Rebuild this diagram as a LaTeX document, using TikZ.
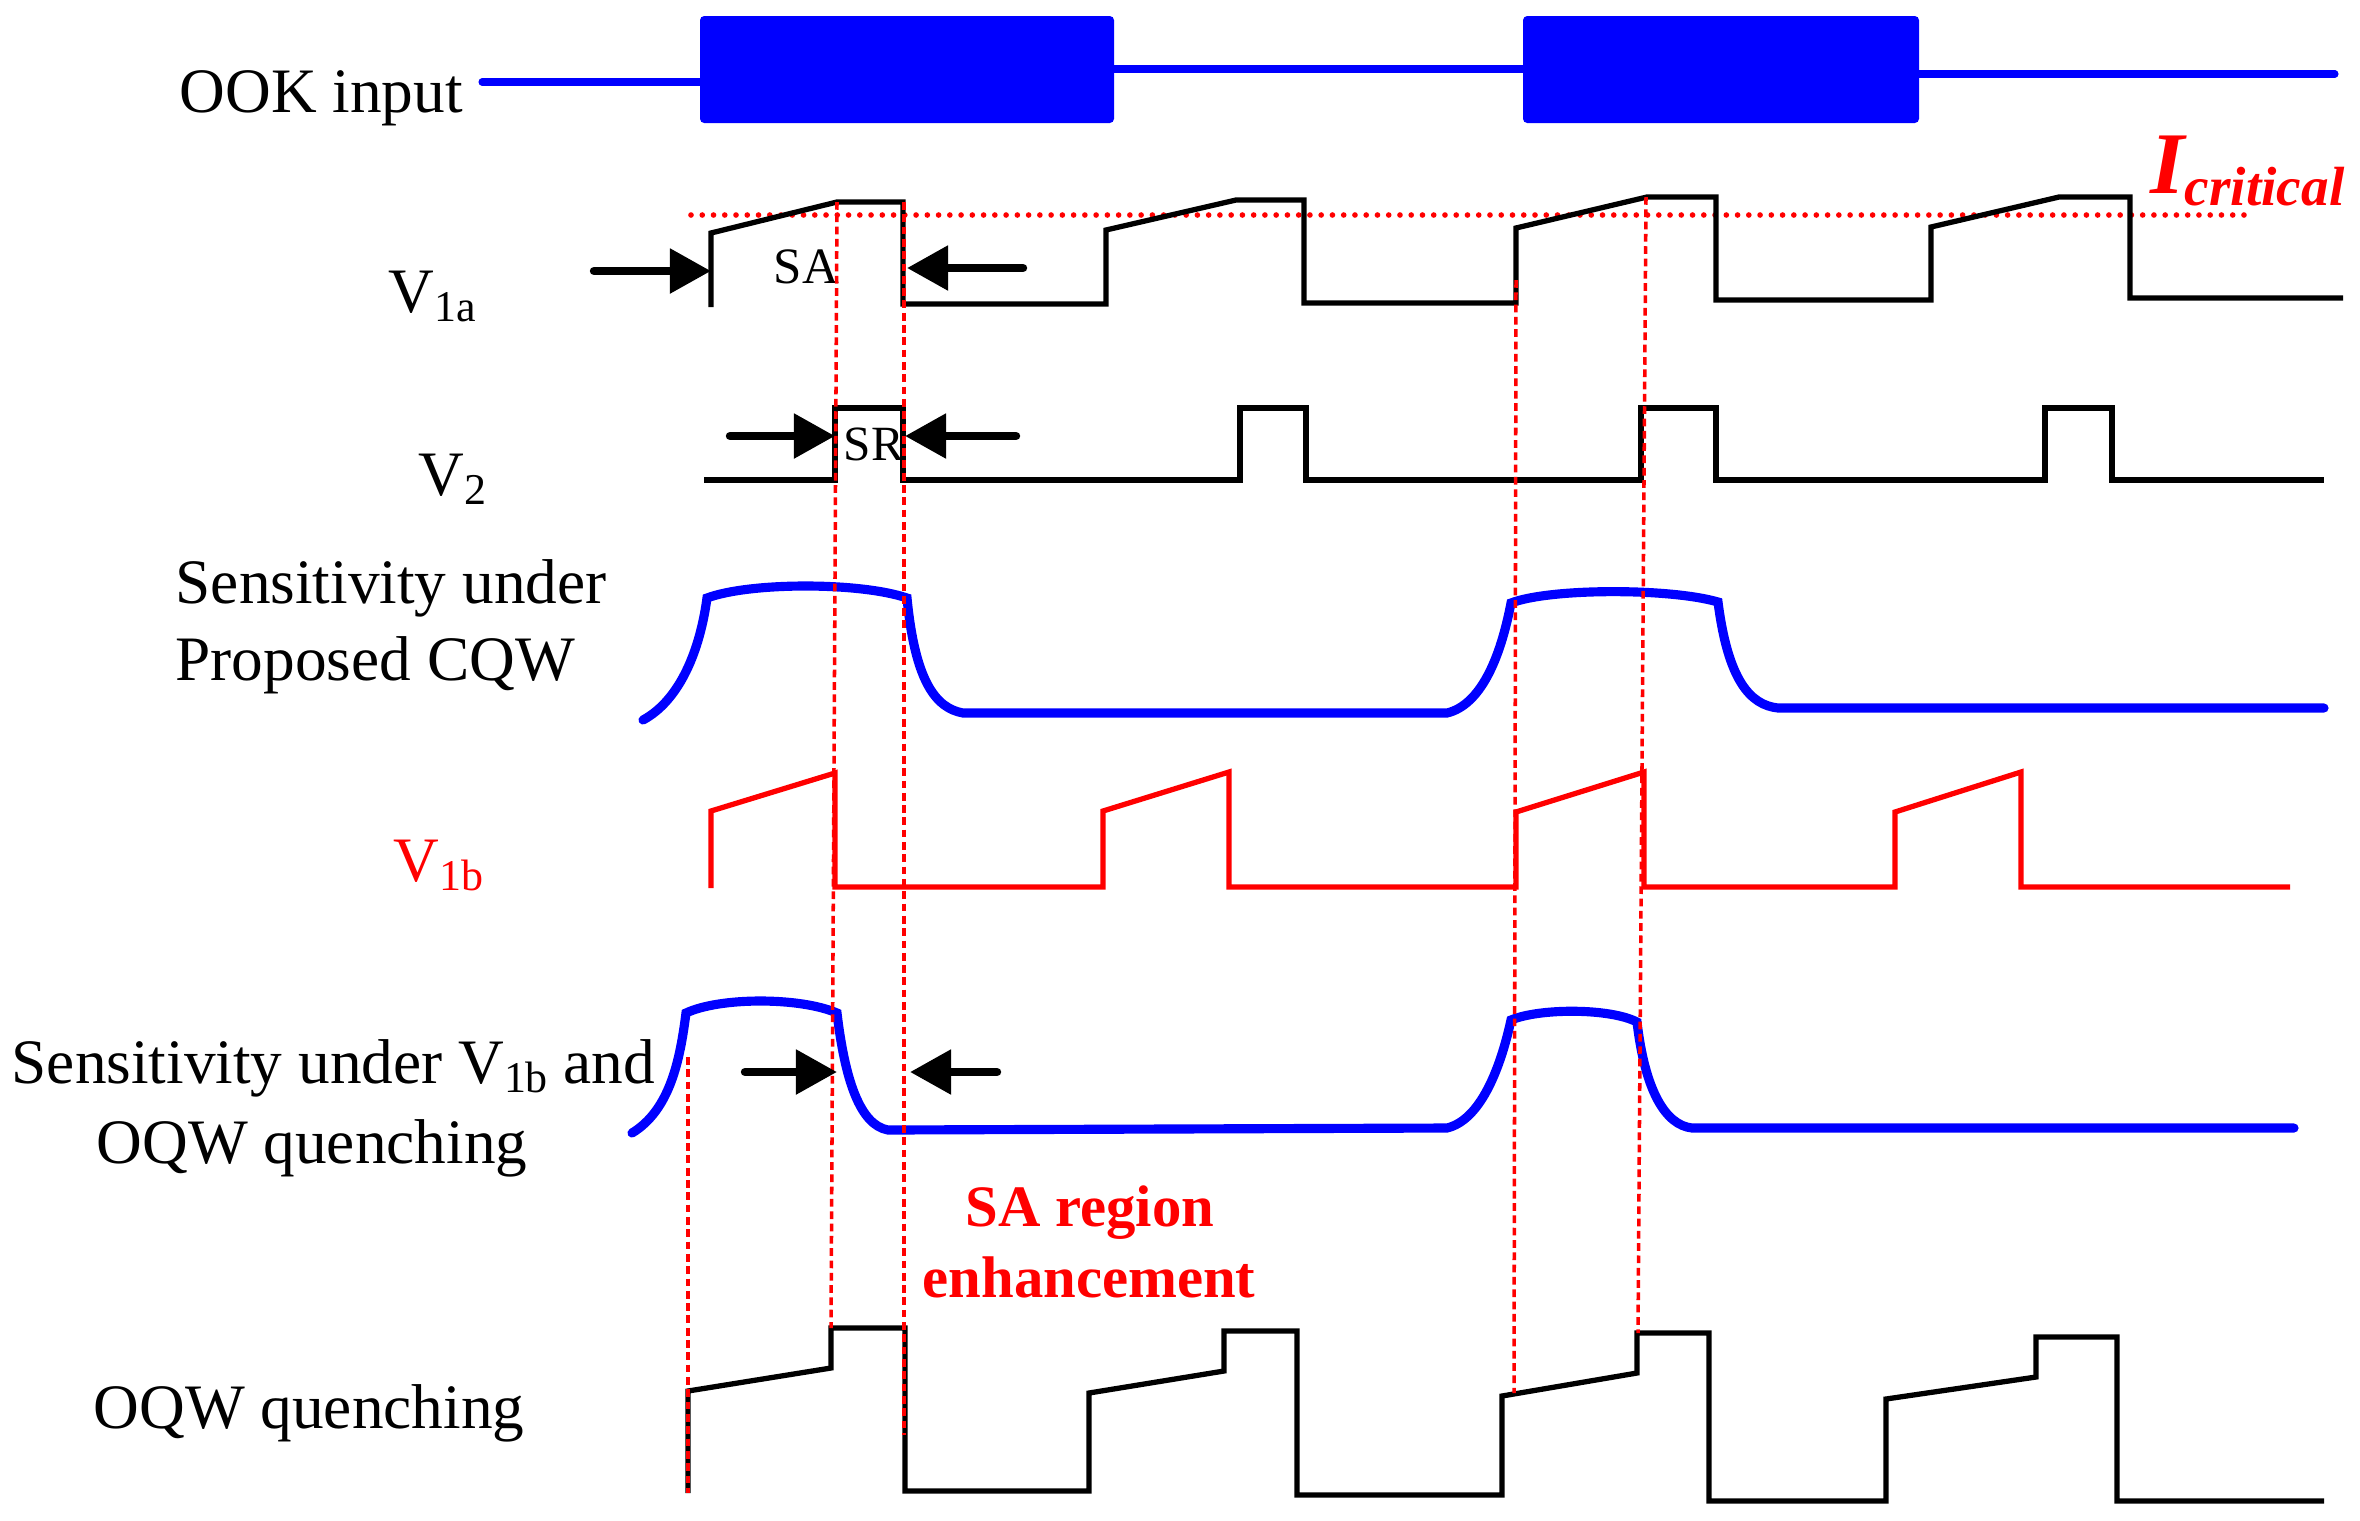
\documentclass[tikz,border=0pt]{standalone}
\usepackage{fontspec}
\setmainfont{Liberation Serif}
\usetikzlibrary{arrows.meta}
\definecolor{pblue}{RGB}{0,0,255}
\definecolor{pred}{RGB}{255,0,0}
\newcommand\SubTxt[1]{\raisebox{-2.6pt}{\fontsize{12.5}{13}\selectfont #1}}
\begin{document}
\begin{tikzpicture}[x=0.01cm,y=-0.01cm,
  wave/.style={line width=1.5pt, line join=miter},
  redwave/.style={wave, pred},
  sens/.style={pblue, line width=2.6pt, line cap=round},
  ook/.style={pblue, line width=2pt},
  pulse/.style={fill=pblue, rounded corners=1.2pt},
  guide/.style={pred, line width=1pt, dash pattern=on 2.2pt off 1.3pt},
  crit/.style={pred, line width=1.6pt, dash pattern=on 0pt off 3.2pt, line cap=round},
  bigarrow/.style={line width=2.4pt, line cap=round, -{Triangle[length=0.41cm,width=0.43cm]}},
  lab/.style={anchor=base west, inner sep=0pt, font=\fontsize{18}{22}\selectfont},
  small/.style={anchor=base west, inner sep=0pt, font=\fontsize{14.5}{16}\selectfont},
  note/.style={anchor=base west, inner sep=0pt, text=pred, font=\bfseries\fontsize{16.7}{20}\selectfont}
]
\useasboundingbox (0,0) rectangle (2360,1520);

% ---------- OOK input ----------
\node[lab] (ook) at (179,112) {OOK input};
\fill[pulse] (700,16) rectangle (1114,123);
\fill[pulse] (1523,16) rectangle (1919,123);
\coordinate (o1) at (482,82);
\coordinate (o2) at (700,82);
\coordinate (o3) at (1114,69);
\coordinate (o4) at (1523,69);
\coordinate (o5) at (1919,74);
\coordinate (o6) at (2335,74);
\draw[ook, line cap=round] (o1) -- (o2);
\draw[ook] (o3) -- (o4);
\draw[ook, line cap=round] (o5) -- (o6);

% ---------- labels ----------
\node[lab] (v1a) at (388,312) {V\SubTxt{1a}};
\node[lab] (v2) at (418,495) {V\SubTxt{2}};
\node[lab] (s1a) at (175,603) {Sensitivity under};
\node[lab] (s1b) at (175,680) {Proposed CQW};
\node[lab, text=pred] (v1b) at (393,881) {V\SubTxt{1b}};
\node[lab] (s2a) at (11,1083) {Sensitivity under V\SubTxt{1b} and};
\node[lab] (s2b) at (96,1163) {OQW quenching};
\node[lab] (oqw) at (93,1428) {OQW quenching};
\node[small] (sa) at (773,283) {SA};
\node[small, font=\fontsize{14}{16}\selectfont] (sr) at (843,460) {SR};
\node[anchor=base west, inner sep=0pt, text=pred, font=\bfseries\itshape\fontsize{25}{27}\selectfont] (ic) at (2150,193) {I\raisebox{-3.5pt}{\fontsize{15.7}{17}\selectfont critical}};
\node[note] (sar1) at (965,1226) {SA region};
\node[note] (sar2) at (922,1297) {enhancement};

% ---------- I critical level ----------
\draw[crit] (691,215) -- (2245,215);

% ---------- V1a ----------
\draw[wave] (711,307) -- (711,233) -- (837,202) -- (903,202) -- (903,304) -- (1106,304)
  -- (1106,230) -- (1236,200) -- (1304,200) -- (1304,303) -- (1516,303)
  -- (1516,228) -- (1647,197) -- (1716,197) -- (1716,300) -- (1931,300)
  -- (1931,227) -- (2059,197) -- (2130,197) -- (2130,298) -- (2343,298);

% ---------- V2 ----------
\draw[wave] (704,480) -- (835,480) -- (835,408) -- (903,408) -- (903,480) -- (1240,480)
  -- (1240,408) -- (1306,408) -- (1306,480) -- (1641,480) -- (1641,408) -- (1716,408)
  -- (1716,480) -- (2045,480) -- (2045,408) -- (2112,408) -- (2112,480) -- (2324,480);

% ---------- Sensitivity under proposed CQW ----------
\draw[sens] (643,720) .. controls (680,700) and (700,650) .. (707,598)
  .. controls (750,582) and (860,582) .. (907,598)
  .. controls (915,680) and (935,708) .. (963,713)
  -- (1447,713)
  .. controls (1480,705) and (1500,660) .. (1511,603)
  .. controls (1550,588) and (1670,588) .. (1718,602)
  .. controls (1728,680) and (1750,705) .. (1778,708)
  -- (2324,708);

% ---------- V1b ----------
\draw[redwave] (711,888) -- (711,811) -- (835,773) -- (835,887) -- (1103,887)
  -- (1103,811) -- (1229,772) -- (1229,887) -- (1516,887)
  -- (1516,812) -- (1644,772) -- (1644,887) -- (1895,887)
  -- (1895,812) -- (2021,772) -- (2021,887) -- (2290,887);

% ---------- Sensitivity under V1b and OQW quenching ----------
\draw[sens] (632,1133) .. controls (670,1110) and (680,1060) .. (686,1013)
  .. controls (720,997) and (800,997) .. (837,1013)
  .. controls (845,1080) and (860,1125) .. (888,1130)
  -- (1447,1128)
  .. controls (1480,1120) and (1500,1070) .. (1511,1020)
  .. controls (1540,1008) and (1610,1008) .. (1637,1022)
  .. controls (1645,1090) and (1665,1125) .. (1692,1128)
  -- (2294,1128);

% ---------- OQW quenching ----------
\draw[wave] (688,1493) -- (688,1391) -- (831,1368) -- (831,1328) -- (905,1328) -- (905,1491)
  -- (1089,1491) -- (1089,1393) -- (1224,1371) -- (1224,1331) -- (1297,1331) -- (1297,1495)
  -- (1502,1495) -- (1502,1396) -- (1637,1373) -- (1637,1333) -- (1709,1333) -- (1709,1501)
  -- (1886,1501) -- (1886,1399) -- (2036,1377) -- (2036,1337) -- (2117,1337) -- (2117,1501)
  -- (2324,1501);

% ---------- red guide lines ----------
\draw[guide] (837,202) -- (831,1328);
\draw[guide] (904,202) -- (904,1435);
\draw[guide] (688,1057) -- (688,1493);
\draw[guide] (1516,280) -- (1514,1393);
\draw[guide] (1646,197) -- (1638,1333);

% ---------- arrows ----------
\coordinate (a1s) at (594,271);  \coordinate (a1e) at (711,271);
\coordinate (a2s) at (1023,268); \coordinate (a2e) at (907,268);
\coordinate (a3s) at (730,436);  \coordinate (a3e) at (835,436);
\coordinate (a4s) at (1016,436); \coordinate (a4e) at (905,436);
\coordinate (a5s) at (745,1072); \coordinate (a5e) at (837,1072);
\coordinate (a6s) at (997,1072); \coordinate (a6e) at (910,1072);
\draw[bigarrow] (a1s) -- (a1e);
\draw[bigarrow] (a2s) -- (a2e);
\draw[bigarrow] (a3s) -- (a3e);
\draw[bigarrow] (a4s) -- (a4e);
\draw[bigarrow] (a5s) -- (a5e);
\draw[bigarrow] (a6s) -- (a6e);
\end{tikzpicture}
\end{document}
